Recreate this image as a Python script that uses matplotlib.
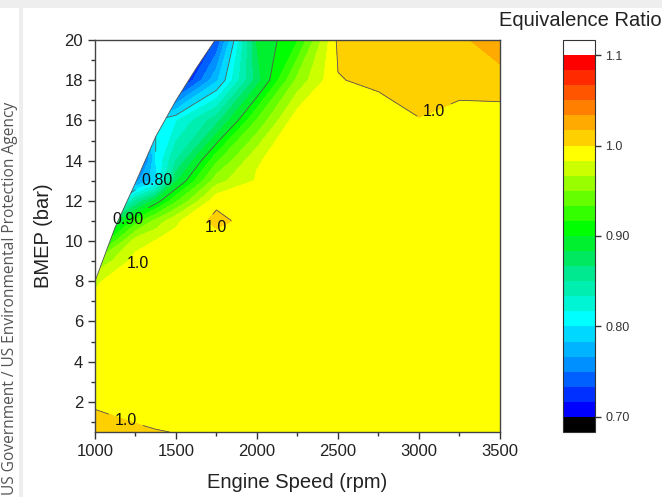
import numpy as np
import matplotlib
matplotlib.use("Agg")
import matplotlib.pyplot as plt
from matplotlib.colors import ListedColormap, BoundaryNorm
from matplotlib.patches import Polygon, Rectangle
from matplotlib.ticker import MultipleLocator

plt.rcParams['font.family'] = ['Liberation Sans', 'DejaVu Sans']

# test grid: engine speed (rpm) x BMEP (bar)
speed = [1000, 1250, 1375, 1500, 1750, 2000, 2250, 2500, 2750, 3000, 3250, 3500]
bmep = [0.5, 2, 4, 6, 8, 9, 10, 11, 12, 13, 14, 16, 18, 20]
phi = [
    [1.012, 1.004, 1.001, 0.9995, 0.992, 0.991, 0.990, 0.991, 0.990, 0.991, 0.990, 0.991],
    [0.996, 0.990, 0.990, 0.991, 0.990, 0.991, 0.990, 0.990, 0.991, 0.990, 0.991, 0.990],
    [0.990, 0.991, 0.990, 0.990, 0.990, 0.991, 0.990, 0.991, 0.990, 0.991, 0.990, 0.991],
    [0.988, 0.990, 0.991, 0.991, 0.990, 0.990, 0.991, 0.990, 0.991, 0.990, 0.991, 0.990],
    [0.982, 0.990, 0.990, 0.990, 0.991, 0.990, 0.990, 0.991, 0.990, 0.991, 0.990, 0.991],
    [0.950, 0.990, 0.990, 0.991, 0.990, 0.991, 0.990, 0.990, 0.991, 0.990, 0.991, 0.990],
    [0.890, 0.975, 0.984, 0.990, 0.990, 0.991, 0.990, 0.991, 0.990, 0.991, 0.990, 0.991],
    [0.830, 0.925, 0.955, 0.980, 1.006, 0.990, 0.991, 0.990, 0.991, 0.990, 0.991, 0.990],
    [0.720, 0.850, 0.890, 0.930, 0.995, 0.990, 0.990, 0.991, 0.990, 0.991, 0.990, 0.991],
    [0.600, 0.760, 0.795, 0.880, 0.960, 0.985, 0.991, 0.990, 0.991, 0.990, 0.991, 0.990],
    [0.600, 0.700, 0.800, 0.850, 0.930, 0.982, 0.992, 0.990, 0.991, 0.990, 0.991, 0.990],
    [0.500, 0.740, 0.800, 0.815, 0.860, 0.935, 0.995, 0.992, 0.990, 0.9995, 0.996, 0.993],
    [0.450, 0.600, 0.660, 0.700, 0.780, 0.875, 0.955, 0.999, 1.004, 1.006, 1.004, 1.008],
    [0.400, 0.550, 0.600, 0.660, 0.735, 0.885, 0.915, 1.004, 1.005, 1.006, 1.012, 1.030],
]

# max torque curve (limit of the map)
mt_speed = [1000, 1125, 1250, 1375, 1500, 1625, 1750]
mt_bmep = [8.0, 10.7, 12.9, 15.2, 17.0, 18.6, 20.1]

levels = np.linspace(0.70, 1.10, 25)
cbar_ticks = [0.70, 0.80, 0.90, 1.0, 1.1]
cbar_labels = ['0.70', '0.80', '0.90', '1.0', '1.1']

band_colors = ['#0000ff', '#0030ff', '#0060ff', '#0090ff', '#00b4ff', '#00d8ff',
               '#00ffff', '#00f5d5', '#00eeb0', '#00e890', '#00e860', '#00f030',
               '#00ff00', '#33ff00', '#66ff00', '#99ff00', '#ccff00', '#ffff00',
               '#ffd000', '#ffaa00', '#ff8000', '#ff5500', '#ff2a00', '#ff0000']
cmap = ListedColormap(band_colors)
cmap.set_under('black')
cmap.set_over('white')
norm = BoundaryNorm(levels, cmap.N)

fig = plt.figure(figsize=(6.62, 4.97), dpi=100)
fig.patch.set_facecolor('white')
# screenshot card edges
fig.patches.append(Rectangle((0, 0.984), 1, 0.016, transform=fig.transFigure,
                             facecolor='#eeeeee', edgecolor='none'))
fig.patches.append(Rectangle((0.029, 0), 0.006, 0.984, transform=fig.transFigure,
                             facecolor='#eeeeee', edgecolor='none'))

ax = fig.add_axes([95/662, 65/497, 405/662, 392/497])
X, Y = np.meshgrid(speed, bmep)
Z = np.array(phi)

cf = ax.contourf(X, Y, Z, levels=levels, cmap=cmap, norm=norm, extend='both')

verts = [(1000, 0.0)] + list(zip(mt_speed, mt_bmep)) + [(1800, 25), (3600, 25), (3600, 0.0)]
clip = Polygon(verts, closed=True, transform=ax.transData, facecolor='none', edgecolor='none')
ax.add_patch(clip)
cf.set_clip_path(clip)
ax.plot(mt_speed, mt_bmep, color='#555555', lw=0.6)

# labelled contour lines, one set per level
label_spots = {
    0.80: ('0.80', [(1390, 12.9)]),
    0.90: ('0.90', [(1215, 10.8)]),
    1.0: ('1.0', [(1745, 10.65), (3085, 16.7), (1190, 1.1)]),
}
for lev, (txt, spots) in label_spots.items():
    cl = ax.contour(X, Y, Z, levels=[lev], colors='#555555', linewidths=0.6)
    cl.set_clip_path(clip)
    lbls = ax.clabel(cl, fmt={lev: txt}, fontsize=11.5, inline=True,
                     colors='#111111', manual=spots)
    for t in lbls:
        t.set_rotation(0)
ax.text(1265, 8.9, '1.0', fontsize=11.5, color='#111111', ha='center', va='center')

ax.set_xlim(1000, 3500)
ax.set_ylim(0.5, 20)
ax.xaxis.set_major_locator(MultipleLocator(500))
ax.xaxis.set_minor_locator(MultipleLocator(250))
ax.yaxis.set_major_locator(MultipleLocator(2))
ax.yaxis.set_minor_locator(MultipleLocator(1))
ax.tick_params(which='major', direction='out', length=5, width=1, color='#333333',
               labelsize=12, labelcolor='#222222')
ax.tick_params(which='minor', direction='out', length=3, width=1, color='#333333')
for s in ax.spines.values():
    s.set_color('#444444')
    s.set_linewidth(1)
ax.set_xlabel('Engine Speed (rpm)', fontsize=14.5, color='#222222', labelpad=10)
ax.set_ylabel('BMEP (bar)', fontsize=14.5, color='#222222', labelpad=8)

cax = fig.add_axes([563/662, 65/497, 32/662, 392/497])
cb = fig.colorbar(cf, cax=cax, extendrect=True, extendfrac=1/24)
cb.set_ticks(cbar_ticks)
cb.set_ticklabels(cbar_labels)
cb.ax.minorticks_off()
cb.ax.tick_params(length=4, width=1, labelsize=9, color='#333333', labelcolor='#333333')
cb.outline.set_edgecolor('#333333')
cb.outline.set_linewidth(0.8)

fig.text(580/662, 1 - 20/497, 'Equivalence Ratio', fontsize=14.5, color='#222222',
         ha='center', va='center')
fig.text(10/662, 0.40, 'US Government / US Environmental Protection Agency',
         family=['Open Sans', 'DejaVu Sans'], fontsize=11.2, color='#555555',
         rotation=90, ha='center', va='center')

fig.savefig('out.png', dpi=100)
